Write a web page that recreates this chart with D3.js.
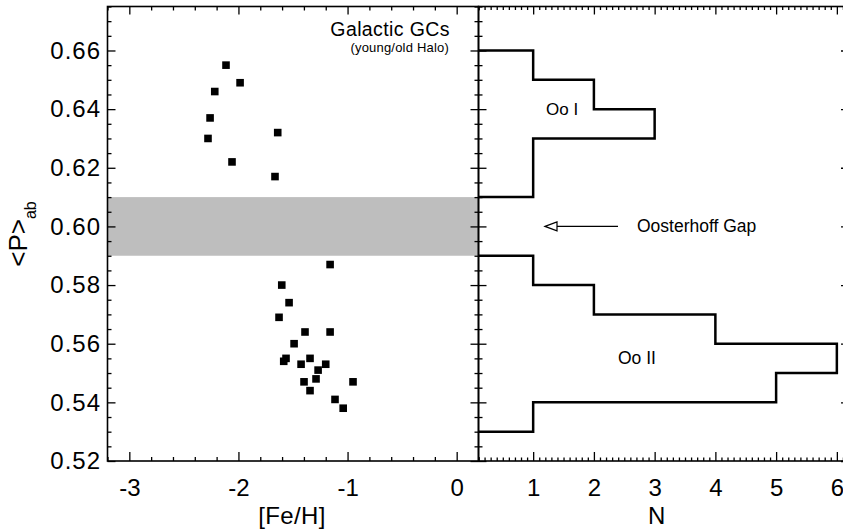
<!DOCTYPE html>
<html>
<head>
<meta charset="utf-8">
<script src="https://cdn.jsdelivr.net/npm/d3@7"></script>
<style>
  html, body { margin: 0; padding: 0; background: #fff; }
  svg { display: block; }
  text { font-family: Helvetica, "Liberation Sans", Arial, sans-serif; fill: #000; }
</style>
</head>
<body>
<svg id="chart" width="843" height="532"></svg>
<script>
// ---- data ----
const feh = [-2.114, -1.985, -2.217, -2.26, -1.64, -2.279, -2.059, -1.665,
             -1.16, -1.603, -1.536, -1.628, -1.39, -1.16, -1.49, -1.564, -1.585,
             -1.344, -1.426, -1.20, -1.27, -1.289, -1.399, -0.95, -1.344, -1.115, -1.04];
const pab = [0.655, 0.649, 0.646, 0.637, 0.632, 0.630, 0.622, 0.617,
             0.587, 0.580, 0.574, 0.569, 0.564, 0.564, 0.560, 0.555, 0.554,
             0.555, 0.553, 0.553, 0.551, 0.548, 0.547, 0.547, 0.544, 0.541, 0.538];
const ooIEdges = [0.61, 0.62, 0.63, 0.64, 0.65, 0.66];
const ooICounts = [1, 1, 3, 2, 1];
const ooIIEdges = [0.53, 0.54, 0.55, 0.56, 0.57, 0.58, 0.59];
const ooIICounts = [1, 5, 6, 4, 2, 1];
const gapBand = [0.59, 0.61];
const fehTicks = [-3, -2, -1, 0];
const pTicks = [0.52, 0.54, 0.56, 0.58, 0.60, 0.62, 0.64, 0.66];
const nTicks = [1, 2, 3, 4, 5, 6];

// ---- layout ----
const svg = d3.select("#chart");
const yTop = 6.5, yBot = 461;
const L = {x0: 107.5, x1: 478.5};
const R = {x0: 478.5, x1: 849};

const y = d3.scaleLinear().domain([0.52, 0.675]).range([yBot, yTop]);
const xL = d3.scaleLinear().domain([-3.2, 0.2]).range([L.x0, L.x1]);
const xR = d3.scaleLinear().domain([0.1, 6.2]).range([R.x0, R.x1]);

const fontTick = 24, fontTitle = 24;
const FF = 'Helvetica, "Liberation Sans", Arial, sans-serif';

// clip for right panel
svg.append("defs").append("clipPath").attr("id", "clipR")
  .append("rect").attr("x", R.x0).attr("y", yTop).attr("width", R.x1 - R.x0).attr("height", yBot - yTop);

// gray Oosterhoff gap band (left panel)
svg.append("rect")
  .attr("x", L.x0).attr("width", L.x1 - L.x0)
  .attr("y", y(gapBand[1])).attr("height", y(gapBand[0]) - y(gapBand[1]))
  .attr("fill", "#bebebe");

// scatter squares
const ms = 7.6;
svg.append("g").selectAll("rect").data(feh.map((f, i) => [f, pab[i]])).join("rect")
  .attr("x", d => xL(d[0]) - ms / 2).attr("y", d => y(d[1]) - ms / 2)
  .attr("width", ms).attr("height", ms).attr("fill", "#000");

// histogram
function stepPts(edges, counts) {
  const pts = [[0, edges[0]]];
  counts.forEach((c, i) => { pts.push([c, edges[i]]); pts.push([c, edges[i + 1]]); });
  pts.push([0, edges[edges.length - 1]]);
  return pts;
}
const hline = d3.line().x(d => xR(d[0])).y(d => y(d[1]));
const hg = svg.append("g").attr("clip-path", "url(#clipR)");
[[ooIEdges, ooICounts], [ooIIEdges, ooIICounts]].forEach(([e, c]) => {
  hg.append("path").attr("d", hline(stepPts(e, c)))
    .attr("fill", "none").attr("stroke", "#000").attr("stroke-width", 2.5)
    .attr("stroke-linejoin", "miter");
});

// ---- axes helpers ----
function styleAxis(g, fs, ls) {
  g.select(".domain").remove();
  g.selectAll("line").attr("stroke", "#000").attr("stroke-width", 1.3);
  g.selectAll("text").attr("font-size", fs).attr("fill", "#000")
    .style("font-family", FF).style("letter-spacing", (ls || 0) + "px");
}
function range(a, b, s) { const out = []; for (let v = a; v <= b + 1e-9; v += s) out.push(+v.toFixed(4)); return out; }

const pMinor = range(0.52, 0.675, 0.005).filter(v => !pTicks.some(t => Math.abs(t - v) < 1e-6));
const fehMinor = range(-3.2, 0.2, 0.2).filter(v => !fehTicks.some(t => Math.abs(t - v) < 1e-6));
const nMinor = range(0.1, 6.2, 0.1).filter(v => Math.abs(v - Math.round(v)) > 1e-6);

// Left panel: bottom
svg.append("g").attr("transform", `translate(0,${yBot})`)
  .call(d3.axisBottom(xL).tickValues(fehTicks).tickSize(-9).tickPadding(18).tickFormat(d => String(d)))
  .call(g => styleAxis(g, fontTick));
svg.append("g").attr("transform", `translate(0,${yBot})`)
  .call(d3.axisBottom(xL).tickValues(fehMinor).tickSize(-4).tickFormat(""))
  .call(g => styleAxis(g, fontTick));
// Left panel: top
svg.append("g").attr("transform", `translate(0,${yTop})`)
  .call(d3.axisTop(xL).tickValues(fehTicks).tickSize(-8).tickFormat(""))
  .call(g => styleAxis(g, fontTick));
svg.append("g").attr("transform", `translate(0,${yTop})`)
  .call(d3.axisTop(xL).tickValues(fehMinor).tickSize(-4).tickFormat(""))
  .call(g => styleAxis(g, fontTick));
// Left panel: left
svg.append("g").attr("transform", `translate(${L.x0},0)`)
  .call(d3.axisLeft(y).tickValues(pTicks).tickSize(-8).tickPadding(6.5).tickFormat(d3.format(".2f")))
  .call(g => styleAxis(g, fontTick, 1));
svg.append("g").attr("transform", `translate(${L.x0},0)`)
  .call(d3.axisLeft(y).tickValues(pMinor).tickSize(-4).tickFormat(""))
  .call(g => styleAxis(g, fontTick));
// Left panel: right (inward)
svg.append("g").attr("transform", `translate(${L.x1},0)`)
  .call(d3.axisRight(y).tickValues(pTicks).tickSize(-8).tickFormat(""))
  .call(g => styleAxis(g, fontTick));
svg.append("g").attr("transform", `translate(${L.x1},0)`)
  .call(d3.axisRight(y).tickValues(pMinor).tickSize(-4).tickFormat(""))
  .call(g => styleAxis(g, fontTick));

// Right panel: bottom
svg.append("g").attr("transform", `translate(0,${yBot})`)
  .call(d3.axisBottom(xR).tickValues(nTicks).tickSize(-9).tickPadding(18).tickFormat(d => String(d)))
  .call(g => styleAxis(g, fontTick));
svg.append("g").attr("transform", `translate(0,${yBot})`)
  .call(d3.axisBottom(xR).tickValues(nMinor).tickSize(-3.5).tickFormat(""))
  .call(g => styleAxis(g, fontTick));
// Right panel: top
svg.append("g").attr("transform", `translate(0,${yTop})`)
  .call(d3.axisTop(xR).tickValues(nTicks).tickSize(-8).tickFormat(""))
  .call(g => styleAxis(g, fontTick));
svg.append("g").attr("transform", `translate(0,${yTop})`)
  .call(d3.axisTop(xR).tickValues(nMinor).tickSize(-3.5).tickFormat(""))
  .call(g => styleAxis(g, fontTick));
// Right panel: left (inward)
svg.append("g").attr("transform", `translate(${R.x0},0)`)
  .call(d3.axisLeft(y).tickValues(pTicks).tickSize(-8).tickFormat(""))
  .call(g => styleAxis(g, fontTick));
svg.append("g").attr("transform", `translate(${R.x0},0)`)
  .call(d3.axisLeft(y).tickValues(pMinor).tickSize(-4).tickFormat(""))
  .call(g => styleAxis(g, fontTick));
// Right panel: right
svg.append("g").attr("transform", `translate(${R.x1},0)`)
  .call(d3.axisRight(y).tickValues(pTicks).tickSize(-8).tickFormat(""))
  .call(g => styleAxis(g, fontTick));

// frames
const frame = svg.append("g").attr("fill", "none").attr("stroke", "#000").attr("stroke-width", 1.6);
frame.append("rect").attr("x", L.x0).attr("y", yTop).attr("width", L.x1 - L.x0).attr("height", yBot - yTop);
frame.append("rect").attr("x", R.x0).attr("y", yTop).attr("width", R.x1 - R.x0).attr("height", yBot - yTop);

// ---- titles & annotations ----
svg.append("text").attr("x", (L.x0 + L.x1) / 2 - 1).attr("y", 523.5).attr("text-anchor", "middle")
  .attr("font-size", fontTitle).style("letter-spacing", "0.4px").text("[Fe/H]");
svg.append("text").attr("x", xR(3) + 2).attr("y", 523.5).attr("text-anchor", "middle")
  .attr("font-size", fontTitle).text("N");

const yl = svg.append("text").attr("transform", `translate(27,234) rotate(-90)`)
  .attr("text-anchor", "middle").attr("font-size", 26);
yl.append("tspan").text("<P>");
yl.append("tspan").attr("font-size", 16).attr("dy", 9).text("ab");

svg.append("text").attr("x", 450).attr("y", 35.5).attr("text-anchor", "end")
  .attr("font-size", 19.5).style("letter-spacing", "0.4px").text("Galactic GCs");
svg.append("text").attr("x", 449).attr("y", 52).attr("text-anchor", "end")
  .attr("font-size", 13).style("letter-spacing", "0.2px").text("(young/old Halo)");

svg.append("text").attr("x", 546).attr("y", y(0.64) + 6).attr("font-size", 17).text("Oo I");
svg.append("text").attr("x", 618).attr("y", y(0.555) + 6).attr("font-size", 17.5).text("Oo II");
svg.append("text").attr("x", 637).attr("y", y(0.60) + 6).attr("font-size", 17.5).text("Oosterhoff Gap");

// arrow pointing at the gap
const ay = y(0.60), tipX = 545, baseX = 557, shaftEnd = 618;
svg.append("line").attr("x1", baseX).attr("x2", shaftEnd).attr("y1", ay).attr("y2", ay)
  .attr("stroke", "#000").attr("stroke-width", 1.2);
svg.append("path").attr("d", `M${tipX},${ay} L${baseX},${ay - 4.5} L${baseX},${ay + 4.5} Z`)
  .attr("fill", "#fff").attr("stroke", "#000").attr("stroke-width", 1.2);
</script>
</body>
</html>
